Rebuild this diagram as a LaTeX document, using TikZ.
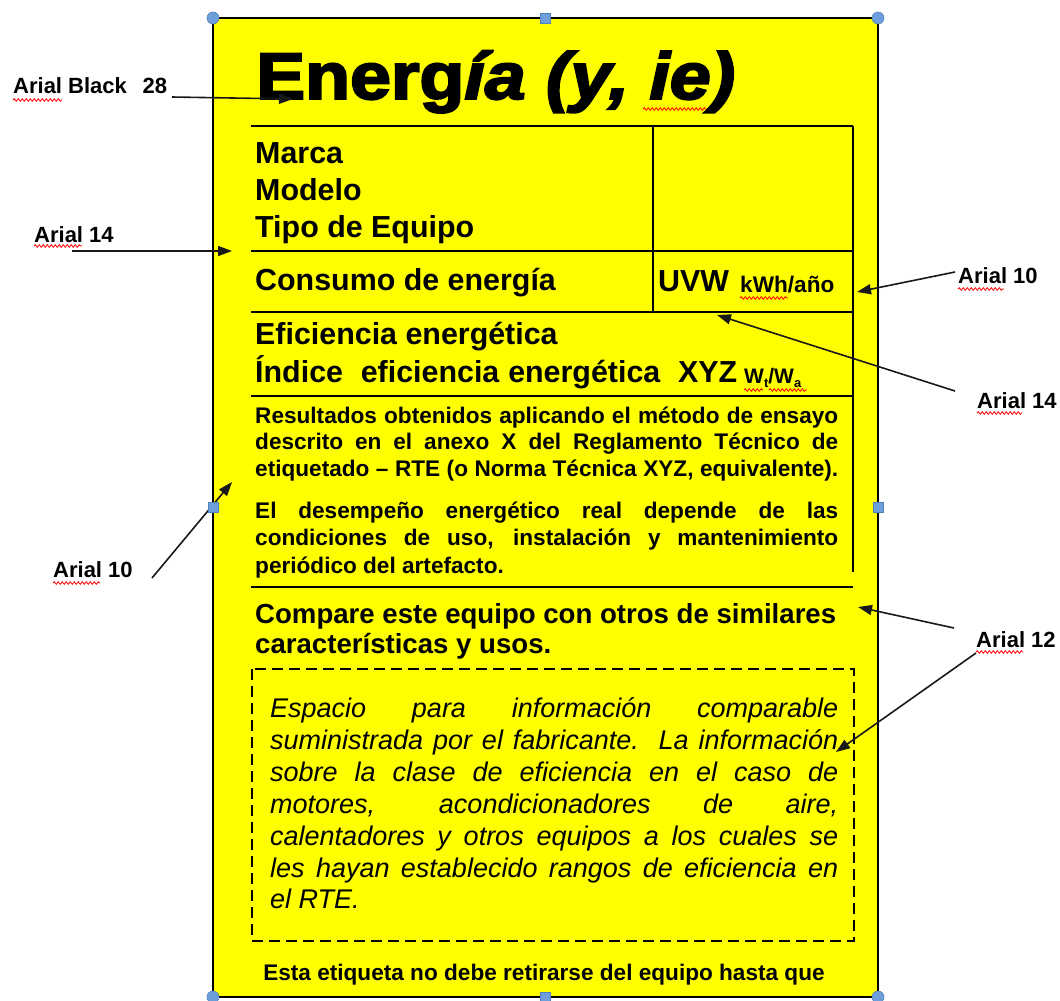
\documentclass[tikz,border=0pt]{standalone}
\usepackage{fontspec}
\setmainfont{Liberation Sans}
\newfontfamily\titlefont{Liberation Sans}[FakeBold=3]
\usetikzlibrary{arrows.meta,decorations.pathmorphing}
\definecolor{labelyellow}{HTML}{FFFF00}
\definecolor{handlefill}{HTML}{6F9FDB}
\definecolor{handleline}{HTML}{4F81BD}
\tikzset{
  rule/.style={line width=1.4pt, draw=black},
  pointer/.style={line width=1.6pt, draw=black!90, -{Triangle[length=14pt,width=10pt]}},
  txtnote/.style={anchor=base west, inner sep=0pt, font=\fontsize{22}{26}\selectfont\bfseries},
  txtbig/.style={anchor=base west, inner sep=0pt, font=\fontsize{30.4}{36}\selectfont\bfseries},
  txtsmall/.style={anchor=base west, inner sep=0pt, font=\fontsize{22.6}{26}\selectfont\bfseries},
  txtmid/.style={anchor=base west, inner sep=0pt, font=\fontsize{27.6}{32}\selectfont\bfseries},
  txtital/.style={anchor=base west, inner sep=0pt, font=\fontsize{27}{32}\selectfont\itshape},
  squig/.style={draw=red, line width=0.8pt, decorate, decoration={snake, segment length=4pt, amplitude=1.3pt}},
  handlec/.style={circle, fill=handlefill, draw=handleline, line width=0.6pt, minimum size=12pt, inner sep=0pt},
  handles/.style={rectangle, fill=handlefill, draw=handleline, line width=0.6pt, minimum size=10pt, inner sep=0pt},
}
\begin{document}
\begin{tikzpicture}[x=1pt,y=-1pt]
\useasboundingbox (0,0) rectangle (1060,1001);
\fill[white] (0,0) rectangle (1060,1001);

% label body
\node[draw=black, line width=1.5pt, fill=labelyellow, minimum width=665pt, minimum height=979pt,
      inner sep=0pt, outer sep=0pt, anchor=north west] (label) at (213,18) {};

% title
\node[anchor=base west, inner sep=0pt] (title) at (256,99)
  {\resizebox{479pt}{\height}{\titlefont\fontsize{66}{70}\selectfont\bfseries Energ\itshape ía (y, ie)}};

% table rules
\draw[rule] (251,126) -- (853,126);
\draw[rule] (251,251) -- (853,251);
\draw[rule] (251,312) -- (853,312);
\draw[rule] (251,396) -- (853,396);
\draw[rule] (251,587) -- (853,587);
\draw[rule] (653,126) -- (653,312);
\draw[rule] (853,126) -- (853,572);
\draw[rule, dash pattern=on 11pt off 6pt] (252,669) rectangle (854,941);

% table texts
\node[txtbig] (marca) at (255,163) {Marca};
\node[txtbig] (modelo) at (255,200) {Modelo};
\node[txtbig] (tipo) at (255,237) {Tipo de Equipo};
\node[txtbig] (consumo) at (255,290) {Consumo de energía};
\node[txtbig] (uvw) at (658,291) {UVW};
\node[txtsmall] (kwh) at (740,292) {kWh/año};
\node[txtbig] (efic) at (255,344) {Eficiencia energética};
\node[txtbig] (indice) at (255,382) {\makebox[482pt][s]{Índice\ \ eficiencia energética\ \ XYZ}};
\node[anchor=base west, inner sep=0pt, font=\fontsize{21}{24}\selectfont\bfseries] (wtwa) at (744,383)
  {W\raisebox{-4pt}{\fontsize{13}{14}\selectfont t}/W\raisebox{-4pt}{\fontsize{13}{14}\selectfont a}};

% Arial 10 paragraphs
\node[txtsmall] (r1) at (255,423) {\makebox[583pt][s]{Resultados obtenidos aplicando el método de ensayo}};
\node[txtsmall] (r2) at (255,449.5) {\makebox[583pt][s]{descrito en el anexo X del Reglamento Técnico de}};
\node[txtsmall] (r3) at (255,476) {\makebox[583pt][s]{etiquetado – RTE (o Norma Técnica XYZ, equivalente).}};
\node[txtsmall] (d1) at (255,518) {\makebox[583pt][s]{El desempeño energético real depende de las}};
\node[txtsmall] (d2) at (255,545.5) {\makebox[583pt][s]{condiciones de uso, instalación y mantenimiento}};
\node[txtsmall] (d3) at (255,573) {periódico del artefacto.};

% Arial 12 bold
\node[txtmid] (c1) at (255,623) {\makebox[581pt][s]{Compare este equipo con otros de similares}};
\node[txtmid] (c2) at (255,653) {características y usos.};

% italic paragraph
\node[txtital] (i1) at (270,717) {\makebox[568pt][s]{Espacio para información comparable}};
\node[txtital] (i2) at (270,749) {\makebox[568pt][s]{suministrada por el fabricante.\ \ La información}};
\node[txtital] (i3) at (270,781) {\makebox[568pt][s]{sobre la clase de eficiencia en el caso de}};
\node[txtital] (i4) at (270,813) {\makebox[568pt][s]{motores, acondicionadores de aire,}};
\node[txtital] (i5) at (270,845) {\makebox[568pt][s]{calentadores y otros equipos a los cuales se}};
\node[txtital] (i6) at (270,877) {\makebox[568pt][s]{les hayan establecido rangos de eficiencia en}};
\node[txtital] (i7) at (270,908) {el RTE.};

\node[anchor=base, inner sep=0pt, font=\fontsize{22.6}{26}\selectfont\bfseries] (esta) at (544,980)
  {Esta etiqueta no debe retirarse del equipo hasta que};

% annotations
\node[txtnote] (nA) at (13,93) {\makebox[154pt][s]{Arial Black\hfill 28}};
\node[txtnote] (nB) at (34,242) {Arial 14};
\node[txtnote] (nC) at (958,283) {Arial 10};
\node[txtnote] (nD) at (977,408) {Arial 14};
\node[txtnote] (nE) at (53,577) {Arial 10};
\node[txtnote] (nF) at (976,647) {Arial 12};

% pointer ends
\coordinate (tA) at (172,97);  \coordinate (hA) at (293,99);
\coordinate (tB) at (72,251);  \coordinate (hB) at (232,251);
\coordinate (tC) at (955,272); \coordinate (hC) at (857,292);
\coordinate (tD) at (955,391); \coordinate (hD) at (717,315);
\coordinate (tE) at (152,578); \coordinate (hE) at (232,482);
\coordinate (tF) at (954,628); \coordinate (hF) at (858,607);
\coordinate (tG) at (976,653); \coordinate (hG) at (836,752);
\draw[pointer] (tA) -- (hA);
\draw[pointer] (tB) -- (hB);
\draw[pointer] (tC) -- (hC);
\draw[pointer] (tD) -- (hD);
\draw[pointer] (tE) -- (hE);
\draw[pointer] (tF) -- (hF);
\draw[pointer] (tG) -- (hG);

% spell-check squiggles
\draw[squig] (13,100) -- (62,100);
\draw[squig] (34,246) -- (82,246);
\draw[squig] (643,109) -- (707,109);
\draw[squig] (740,298) -- (788,298);
\draw[squig] (744,390) -- (763,390);
\draw[squig] (769,390) -- (807,390);
\draw[squig] (958,289) -- (1004,289);
\draw[squig] (977,413) -- (1022,413);
\draw[squig] (53,583) -- (100,583);
\draw[squig] (976,652) -- (1023,652);

% selection handles
\node[handlec] (hnw) at (label.north west) {};
\node[handlec] (hne) at (label.north east) {};
\node[handlec] (hsw) at (label.south west) {};
\node[handlec] (hse) at (label.south east) {};
\node[handles] (hn) at (label.north) {};
\node[handles] (hw) at (label.west) {};
\node[handles] (he) at (label.east) {};
\node[handles] (hs) at (label.south) {};
\end{tikzpicture}
\end{document}
